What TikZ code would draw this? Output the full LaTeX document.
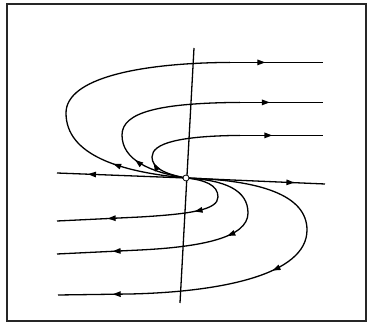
\documentclass[tikz,border=0pt]{standalone}
\usetikzlibrary{arrows.meta,decorations.markings}
\begin{document}
\begin{tikzpicture}[x=1pt,y=-1pt,
  traj/.style={line width=1.3pt,black},
  flowmark/.style={postaction={decorate,decoration={markings,mark=at position #1 with {\arrow{Triangle[length=8pt,width=5.5pt]}}}}}]
\useasboundingbox (0,0) rectangle (368,323);
\draw[line width=1.3pt,black!85] (7,4) rectangle (366,321);
\coordinate (O) at (186,178);
% axis-like lines
\draw[traj] (194,48) -- (180,303);
\draw[traj,flowmark=0.76] (O) -- (57,173);
\draw[traj,flowmark=0.78] (O) -- (325,184);
% upper trajectories
\draw[traj,flowmark=0.5] (O) .. controls (120,172) and (66,155) .. (66,113);
\draw[traj] (66,113) .. controls (66,78) and (140,63) .. (230,62.4);
\draw[traj,flowmark=0.38] (230,62.4) -- (323,62.4);
\draw[traj,flowmark=0.65] (O) .. controls (150,172) and (122,160) .. (122,135);
\draw[traj] (122,135) .. controls (122,112) and (160,103) .. (240,102.4);
\draw[traj,flowmark=0.36] (240,102.4) -- (323,102.4);
\draw[traj,flowmark=0.85] (O) .. controls (165,174) and (152,168) .. (152,157);
\draw[traj] (152,157) .. controls (152,143) and (180,136) .. (240,135.4);
\draw[traj,flowmark=0.39] (240,135.4) -- (323,135.4);
% lower trajectories
\draw[traj] (O) .. controls (205,180) and (218,185) .. (218,197);
\draw[traj,flowmark=0.35] (218,197) .. controls (218,210) and (190,214) .. (140,217);
\draw[traj,flowmark=0.39] (140,217) -- (57,221);
\draw[traj] (O) .. controls (225,180) and (248,190) .. (248,213);
\draw[traj,flowmark=0.27] (248,213) .. controls (248,238) and (200,247) .. (140,250);
\draw[traj,flowmark=0.33] (140,250) -- (57,254);
\draw[traj] (O) .. controls (260,180) and (307,195) .. (307,230);
\draw[traj,flowmark=0.28] (307,230) .. controls (307,275) and (220,292) .. (130,294);
\draw[traj,flowmark=0.24] (130,294) -- (58,295);
% origin
\node[circle,draw,fill=white,line width=0.8pt,inner sep=0pt,minimum size=6pt] (o) at (O) {};
\end{tikzpicture}
\end{document}
